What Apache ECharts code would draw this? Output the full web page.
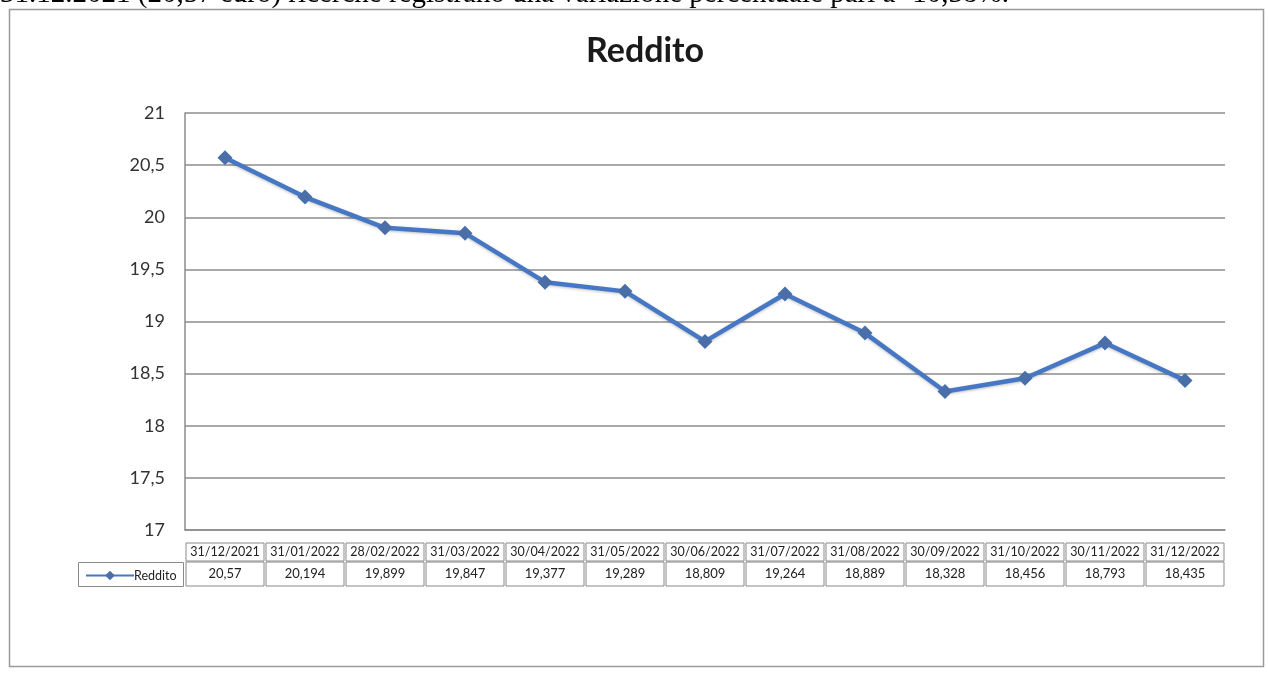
<!DOCTYPE html>
<html>
<head>
<meta charset="utf-8">
<script src="https://cdn.jsdelivr.net/npm/echarts@6/dist/echarts.min.js"></script>
<style>
  html, body { margin: 0; padding: 0; background: #fff; }
  #chart { width: 1268px; height: 679px; }
</style>
</head>
<body>
<div id="chart"></div>
<script>
// dati
var dates = ['31/12/2021', '31/01/2022', '28/02/2022', '31/03/2022', '30/04/2022', '31/05/2022',
  '30/06/2022', '31/07/2022', '31/08/2022', '30/09/2022', '31/10/2022', '30/11/2022', '31/12/2022'];
var reddito = [20.57, 20.194, 19.899, 19.847, 19.377, 19.289, 18.809, 19.264, 18.889, 18.328, 18.456, 18.793, 18.435];
var yTicks = { min: 17, max: 21, step: 0.5 };
var seriesName = 'Reddito';
var introText = '31.12.2021 (20,57 euro) ricerche registrano una variazione percentuale pari a -10,38%.';

// virgola decimale all'italiana
function comma(v) {
    return String(v).replace('.', ',');
}

var font = 'Lato';
var gridColor = '#8c8c8c';
var lineBlue = '#4677c4';

var myChart = echarts.init(document.getElementById('chart'));

myChart.setOption({
    animation: false,
    title: {
        text: seriesName,
        left: 581,
        top: 29,
        textStyle: { fontFamily: font, fontSize: 34, fontWeight: 'bold', color: '#1a1a1a' }
    },
    grid: { left: 185, right: 43, top: 113, bottom: 149 },
    legend: {
        data: [seriesName],
        left: 80,
        top: 564,
        itemWidth: 48,
        itemHeight: 12,
        itemGap: 0,
        textStyle: { fontFamily: font, fontSize: 12.5, color: '#222', padding: [0, 0, 0, -5] }
    },
    xAxis: [
        {
            type: 'category',
            data: dates,
            boundaryGap: true,
            axisLine: { show: true, lineStyle: { color: gridColor, width: 1.5 } },
            axisTick: { show: false },
            axisLabel: {
                interval: 0,
                margin: 13,
                width: 78,
                height: 18,
                lineHeight: 18,
                overflow: 'none',
                borderColor: '#8a8a8a',
                borderWidth: 1,
                fontFamily: font,
                fontSize: 12.5,
                color: '#222'
            }
        },
        {
            type: 'category',
            data: dates,
            position: 'bottom',
            offset: 18,
            axisLine: { show: false },
            axisTick: { show: false },
            axisLabel: {
                interval: 0,
                margin: 14,
                width: 78,
                height: 24,
                lineHeight: 24,
                overflow: 'none',
                borderColor: '#8a8a8a',
                borderWidth: 1,
                fontFamily: font,
                fontSize: 13,
                color: '#222',
                formatter: function (v, i) { return comma(reddito[i]); }
            }
        }
    ],
    yAxis: {
        type: 'value',
        min: yTicks.min,
        max: yTicks.max,
        interval: yTicks.step,
        axisLine: { show: true, lineStyle: { color: gridColor, width: 1.5 } },
        axisTick: { show: false },
        splitLine: { lineStyle: { color: gridColor, width: 1.5 } },
        axisLabel: {
            margin: 20,
            fontFamily: font,
            fontSize: 18,
            color: '#333',
            formatter: function (v) { return comma(v); }
        }
    },
    series: [{
        name: seriesName,
        type: 'line',
        data: reddito,
        symbol: 'diamond',
        symbolSize: 15,
        lineStyle: { color: lineBlue, width: 4.5, shadowColor: 'rgba(0,0,0,0.25)', shadowBlur: 3, shadowOffsetY: 1 },
        itemStyle: { color: '#4a6ea8' }
    }],
    graphic: [
        {
            type: 'text',
            left: 0,
            top: -20,
            style: { text: introText, font: '29px "Liberation Serif"', fill: '#000' }
        },
        {
            type: 'rect',
            shape: { x: 9.5, y: 9.5, width: 1254, height: 657 },
            style: { fill: 'none', stroke: '#9a9a9a', lineWidth: 1.5 },
            silent: true
        },
        {
            type: 'rect',
            shape: { x: 78.5, y: 562.5, width: 105, height: 24 },
            style: { fill: 'none', stroke: '#8a8a8a', lineWidth: 1 },
            silent: true
        }
    ]
});
</script>
</body>
</html>
